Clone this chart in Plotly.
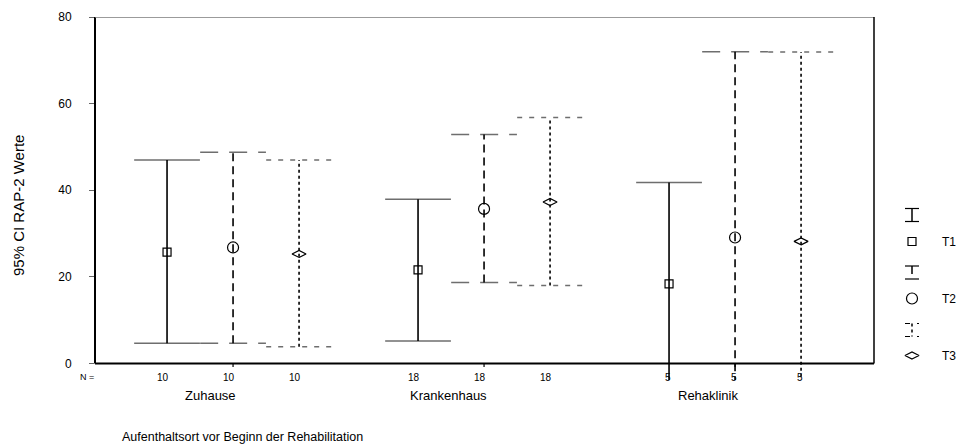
import plotly.graph_objects as go

# --- data -------------------------------------------------------------
groups = ["Zuhause", "Krankenhaus", "Rehaklinik"]
n_per_group = [10, 18, 5]
series_names = ["T1", "T2", "T3"]

mean_t1 = [25.7, 21.6, 18.4]
mean_t2 = [26.8, 35.7, 29.1]
mean_t3 = [25.3, 37.3, 28.2]

upper_t1 = [47.0, 37.9, 41.8]
upper_t2 = [48.8, 52.9, 72.0]
upper_t3 = [47.0, 56.8, 71.9]

lower_t1 = [4.7, 5.2, -5.0]
lower_t2 = [4.7, 18.7, -13.8]
lower_t3 = [3.9, 18.0, -15.5]

y_ticks = [0, 20, 40, 60, 80]

means = [mean_t1, mean_t2, mean_t3]
uppers = [upper_t1, upper_t2, upper_t3]
lowers = [lower_t1, lower_t2, lower_t3]

# --- styling ----------------------------------------------------------
FONT = "Liberation Sans, Arial, Helvetica, sans-serif"
bar_dash = ["solid", "8px,5px", "3px,3px"]
cap_dash = ["solid", "18px,11px", "5px,7px"]
symbols = ["square-open", "circle-open", "diamond-wide-open"]
sym_size = [8, 11, 10]

W, H = 958, 446
ML, MR, MT, MB = 95, 0, 17, 66
plot_w = W - ML - MR
main_w = 779                      # width of the framed chart area in px
main_frac = main_w / plot_w
y_min, y_max = -3.8, 80

series_offset = 0.263             # spacing between T1/T2/T3 inside a group
cap_half = 0.131                  # half-width of the CI caps

fig = go.Figure()

for s, name in enumerate(series_names):
    xs_bar, ys_bar, xs_cap, ys_cap = [], [], [], []
    xs_pt = []
    for g in range(len(groups)):
        x = g + (s - 1) * series_offset
        xs_pt.append(x)
        xs_bar += [x, x, None]
        ys_bar += [lowers[s][g], uppers[s][g], None]
        for yv in (uppers[s][g], lowers[s][g]):
            xs_cap += [x - cap_half, x + cap_half, None]
            ys_cap += [yv, yv, None]
    fig.add_trace(go.Scatter(
        x=xs_cap, y=ys_cap, mode="lines", showlegend=False, hoverinfo="skip",
        line=dict(color="#6e6e6e", width=1.5, dash=cap_dash[s])))
    fig.add_trace(go.Scatter(
        x=xs_bar, y=ys_bar, mode="lines", showlegend=False, hoverinfo="skip",
        line=dict(color="black", width=1.6, dash=bar_dash[s])))
    fig.add_trace(go.Scatter(
        x=xs_pt, y=means[s], mode="markers", name=name, showlegend=False,
        marker=dict(symbol=symbols[s], size=sym_size[s], color="black",
                    line=dict(width=1.2, color="black"))))

# --- key on the right (drawn in its own pixel-scaled axes) ------------
icon_x, icon_half_h, icon_cap = 17, 6.5, 7
for s, name in enumerate(series_names):
    cy = 215 + 57.5 * s
    my = 241.5 + 57 * s
    fig.add_trace(go.Scatter(
        x=[icon_x - icon_cap, icon_x + icon_cap, None, icon_x - icon_cap, icon_x + icon_cap],
        y=[cy - icon_half_h, cy - icon_half_h, None, cy + icon_half_h, cy + icon_half_h],
        xaxis="x2", yaxis="y2", mode="lines", showlegend=False, hoverinfo="skip",
        line=dict(color="black", width=1.2, dash=cap_dash[s])))
    fig.add_trace(go.Scatter(
        x=[icon_x, icon_x], y=[cy - icon_half_h, cy + icon_half_h],
        xaxis="x2", yaxis="y2", mode="lines", showlegend=False, hoverinfo="skip",
        line=dict(color="black", width=1.5, dash=bar_dash[s])))
    fig.add_trace(go.Scatter(
        x=[icon_x], y=[my], xaxis="x2", yaxis="y2", mode="markers",
        showlegend=False, hoverinfo="skip",
        marker=dict(symbol=symbols[s], size=sym_size[s], color="black",
                    line=dict(width=1.2, color="black"))))
    fig.add_annotation(x=45, y=my, xref="x2", yref="y2", text=name,
                       showarrow=False, xanchor="left", yanchor="middle",
                       font=dict(size=12, color="black", family=FONT))

# --- frame ------------------------------------------------------------
line_black = dict(color="black", width=2)
fig.add_shape(type="line", xref="paper", yref="y", x0=0, x1=0, y0=0, y1=80, line=line_black)
fig.add_shape(type="line", xref="paper", yref="y", x0=0, x1=main_frac, y0=0, y1=0, line=line_black)
fig.add_shape(type="line", xref="paper", yref="y", x0=0, x1=main_frac, y0=80, y1=80,
              line=dict(color="#7a7a7a", width=1.5))
fig.add_shape(type="line", xref="paper", yref="y", x0=main_frac, x1=main_frac, y0=0, y1=80,
              line=dict(color="black", width=1.5))
for g in range(len(groups)):
    fig.add_shape(type="line", xref="x", yref="y", x0=g, x1=g, y0=0, y1=-0.8,
                  line=dict(color="black", width=1.2))

# --- category / count labels -----------------------------------------
def py(px):
    """pixel row -> paper y"""
    return (H - MB - px) / (H - MB - MT)

fig.add_annotation(x=0, y=py(377), xref="paper", yref="paper", text="N =",
                   showarrow=False, xanchor="right", yanchor="middle", xshift=1,
                   font=dict(size=9, color="black", family=FONT))
for g, grp in enumerate(groups):
    for s in range(len(series_names)):
        fig.add_annotation(x=g + (s - 1) * series_offset, y=py(377), xref="x", yref="paper",
                           text=str(n_per_group[g]), showarrow=False, xanchor="right",
                           yanchor="middle", xshift=4,
                           font=dict(size=10, color="black", family=FONT))
    fig.add_annotation(x=g, y=py(395), xref="x", yref="paper", text=grp,
                       showarrow=False, xanchor="right", yanchor="middle", xshift=5,
                       font=dict(size=13, color="black", family=FONT))

fig.add_annotation(x=(120 - ML) / plot_w, y=py(437), xref="paper", yref="paper",
                   text="Aufenthaltsort vor Beginn der Rehabilitation",
                   showarrow=False, xanchor="left", yanchor="middle",
                   font=dict(size=12.5, color="black", family=FONT))
fig.add_annotation(x=(18 - ML) / plot_w, y=py(206), xref="paper", yref="paper",
                   text="95% CI RAP-2 Werte", textangle=-90,
                   showarrow=False, xanchor="center", yanchor="middle",
                   font=dict(size=15, color="black", family=FONT))

fig.update_layout(
    width=W, height=H,
    margin=dict(l=ML, r=MR, t=MT, b=MB, pad=0),
    paper_bgcolor="white", plot_bgcolor="white",
    showlegend=False,
    font=dict(family=FONT, color="black"),
    xaxis=dict(domain=[0, main_frac], range=[-0.55, -0.55 + main_w / 251.0],
               visible=False, fixedrange=True),
    yaxis=dict(domain=[0, 1], range=[y_min, y_max], tickvals=y_ticks,
               ticks="outside", ticklen=5, tickwidth=1, tickcolor="#666666",
               showgrid=False, zeroline=False, showline=False,
               ticklabelstandoff=15,
               tickfont=dict(size=12, color="black", family=FONT)),
    xaxis2=dict(domain=[(895 - ML) / plot_w, 1], range=[0, 63], visible=False,
                anchor="y2"),
    yaxis2=dict(domain=[0, 1], range=[H - MB, MT], visible=False, anchor="x2"),
)

fig.write_html("out.html")
